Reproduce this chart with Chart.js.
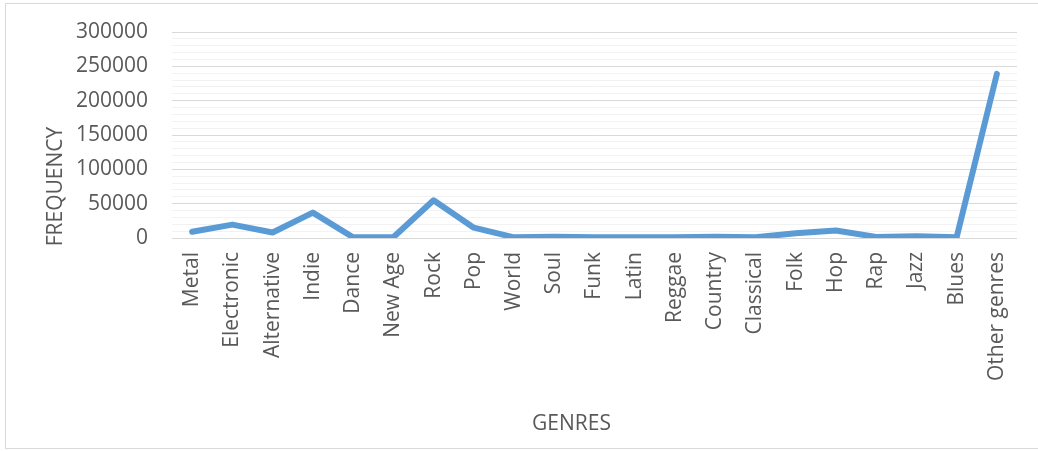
<!DOCTYPE html>
<html>
<head>
<meta charset="utf-8">
<script src="https://cdn.jsdelivr.net/npm/chart.js@4/dist/chart.umd.min.js"></script>
<style>
  html, body { margin: 0; padding: 0; background: #ffffff; }
  #wrap { position: relative; width: 1038px; height: 451px; overflow: hidden; }
  #frame { position: absolute; left: 5px; top: 3px; width: 1040px; height: 446px; border: 1px solid #d9d9d9; box-sizing: border-box; }
  canvas { position: absolute; left: 0; top: 0; }
</style>
</head>
<body>
<div id="wrap">
  <div id="frame"></div>
  <canvas id="c" width="1038" height="451"></canvas>
</div>
<script>
const genres = ["Metal", "Electronic", "Alternative", "Indie", "Dance", "New Age", "Rock", "Pop", "World", "Soul", "Funk", "Latin", "Reggae", "Country", "Classical", "Folk", "Hop", "Rap", "Jazz", "Blues", "Other genres"];
const frequency = [9000, 19500, 8000, 37000, 1000, 1000, 55000, 15000, 1000, 2000, 1000, 1000, 1000, 2000, 1000, 7000, 11000, 1500, 2500, 1000, 239000];
const yMin = 0;
const yMax = 300000;
const yMajorStep = 50000;
const yMinorStep = 10000;
const xTitle = "GENRES";
const yTitle = "FREQUENCY";

const FONT = "'Open Sans', 'DejaVu Sans', sans-serif";
const TEXT = "#595959";

const titlesPlugin = {
  id: 'titles',
  afterDraw(chart) {
    const ctx = chart.ctx;
    ctx.save();
    ctx.fillStyle = TEXT;
    ctx.font = "21px " + FONT;
    ctx.textAlign = 'center';
    ctx.textBaseline = 'alphabetic';
    ctx.fillText(xTitle, 571.5, 430);
    ctx.translate(62, 186.5);
    ctx.rotate(-Math.PI / 2);
    ctx.fillText(yTitle, 0, 0);
    ctx.restore();
  }
};

new Chart(document.getElementById('c'), {
  type: 'line',
  data: {
    labels: genres,
    datasets: [{
      data: frequency,
      borderColor: '#5B9BD5',
      backgroundColor: '#5B9BD5',
      borderWidth: 6,
      borderCapStyle: 'round',
      borderJoinStyle: 'round',
      pointRadius: 0,
      pointHoverRadius: 0,
      tension: 0,
      fill: false
    }]
  },
  options: {
    responsive: false,
    animation: false,
    devicePixelRatio: 1,
    layout: { padding: { top: 32, right: 21, bottom: 0, left: 0 } },
    plugins: { legend: { display: false }, tooltip: { enabled: false } },
    scales: {
      x: {
        offset: true,
        grid: { display: false, drawTicks: false },
        border: { display: false },
        ticks: {
          autoSkip: false,
          maxRotation: 90,
          minRotation: 90,
          padding: 14,
          color: TEXT,
          font: { family: FONT, size: 21 }
        },
        afterFit(scale) { scale.height = 213; scale.paddingTop = 0; scale.paddingBottom = 0; }
      },
      y: {
        min: yMin,
        max: yMax,
        grid: {
          drawTicks: false,
          color: (c) => (c.tick && c.tick.value % yMajorStep === 0) ? '#d9d9d9' : '#f2f2f2',
          lineWidth: 1
        },
        border: { display: false },
        ticks: {
          stepSize: yMinorStep,
          autoSkip: false,
          padding: 24,
          color: TEXT,
          font: { family: FONT, size: 21 },
          callback: (v) => (v % yMajorStep === 0) ? String(v) : ''
        },
        afterFit(scale) { scale.width = 172; scale.paddingTop = 0; scale.paddingBottom = 0; }
      }
    }
  },
  plugins: [titlesPlugin]
});
</script>
</body>
</html>
